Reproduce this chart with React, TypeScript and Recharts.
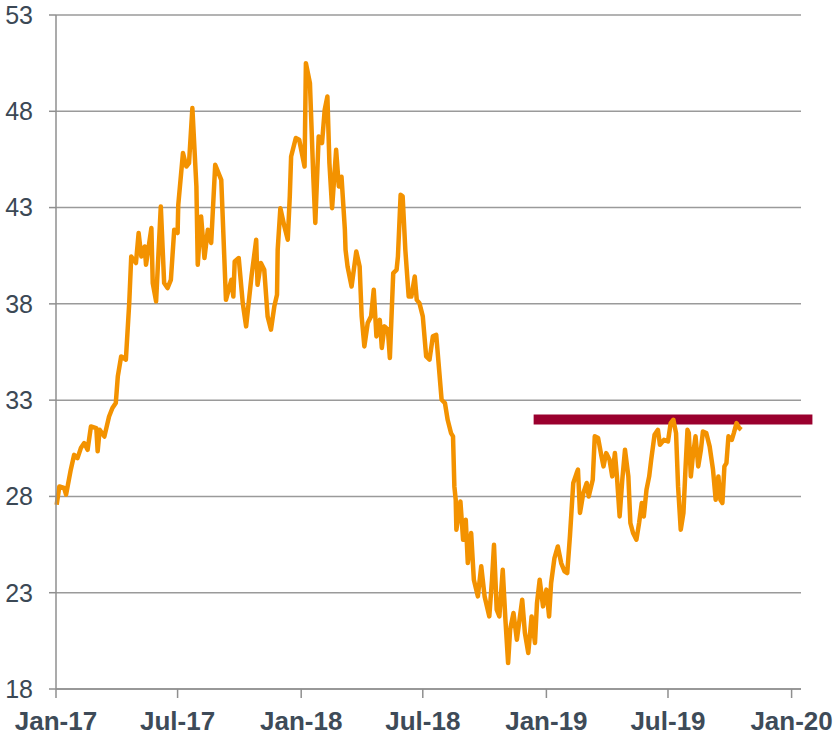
import React from 'react'
import { LineChart, Line, XAxis, YAxis, CartesianGrid, ReferenceLine } from 'recharts'

const dates = [
  '2017-01-02', '2017-01-06', '2017-01-13', '2017-01-16', '2017-01-23', '2017-01-28', '2017-02-02', '2017-02-07',
  '2017-02-12', '2017-02-17', '2017-02-22', '2017-03-02', '2017-03-04', '2017-03-07', '2017-03-14', '2017-03-21',
  '2017-03-26', '2017-03-31', '2017-04-03', '2017-04-08', '2017-04-15', '2017-04-20', '2017-04-23', '2017-04-30',
  '2017-05-04', '2017-05-08', '2017-05-13', '2017-05-15', '2017-05-23', '2017-05-25', '2017-05-30', '2017-06-06',
  '2017-06-11', '2017-06-16', '2017-06-21', '2017-06-26', '2017-07-01', '2017-07-02', '2017-07-09', '2017-07-14',
  '2017-07-18', '2017-07-23', '2017-07-29', '2017-07-31', '2017-08-05', '2017-08-10', '2017-08-15', '2017-08-20',
  '2017-08-26', '2017-09-04', '2017-09-11', '2017-09-19', '2017-09-22', '2017-09-24', '2017-09-30', '2017-10-06',
  '2017-10-11', '2017-10-19', '2017-10-26', '2017-10-28', '2017-11-02', '2017-11-07', '2017-11-12', '2017-11-17',
  '2017-11-22', '2017-11-26', '2017-11-27', '2017-12-01', '2017-12-07', '2017-12-12', '2017-12-15', '2017-12-17',
  '2017-12-24', '2017-12-29', '2018-01-06', '2018-01-08', '2018-01-14', '2018-01-19', '2018-01-22', '2018-01-27',
  '2018-02-01', '2018-02-05', '2018-02-09', '2018-02-12', '2018-02-16', '2018-02-22', '2018-02-26', '2018-03-02',
  '2018-03-07', '2018-03-08', '2018-03-11', '2018-03-17', '2018-03-24', '2018-03-29', '2018-04-01', '2018-04-05',
  '2018-04-10', '2018-04-15', '2018-04-19', '2018-04-23', '2018-04-28', '2018-05-01', '2018-05-05', '2018-05-10',
  '2018-05-13', '2018-05-18', '2018-05-23', '2018-05-25', '2018-05-29', '2018-06-01', '2018-06-05', '2018-06-10',
  '2018-06-14', '2018-06-19', '2018-06-22', '2018-06-26', '2018-07-01', '2018-07-06', '2018-07-11', '2018-07-16',
  '2018-07-21', '2018-07-29', '2018-08-03', '2018-08-07', '2018-08-12', '2018-08-15', '2018-08-17', '2018-08-19',
  '2018-08-20', '2018-08-26', '2018-08-30', '2018-09-03', '2018-09-06', '2018-09-11', '2018-09-15', '2018-09-21',
  '2018-09-26', '2018-10-01', '2018-10-08', '2018-10-12', '2018-10-15', '2018-10-19', '2018-10-23', '2018-10-28',
  '2018-11-01', '2018-11-05', '2018-11-08', '2018-11-13', '2018-11-18', '2018-11-26', '2018-11-30', '2018-12-05',
  '2018-12-10', '2018-12-15', '2018-12-18', '2018-12-22', '2018-12-27', '2019-01-01', '2019-01-05', '2019-01-08',
  '2019-01-13', '2019-01-18', '2019-01-23', '2019-01-28', '2019-02-01', '2019-02-05', '2019-02-10', '2019-02-15',
  '2019-02-17', '2019-02-20', '2019-02-25', '2019-03-02', '2019-03-05', '2019-03-11', '2019-03-14', '2019-03-19',
  '2019-03-24', '2019-03-27', '2019-03-31', '2019-04-05', '2019-04-09', '2019-04-13', '2019-04-16', '2019-04-20',
  '2019-04-24', '2019-04-28', '2019-05-03', '2019-05-06', '2019-05-10', '2019-05-15', '2019-05-19', '2019-05-23',
  '2019-05-26', '2019-05-30', '2019-06-03', '2019-06-06', '2019-06-11', '2019-06-16', '2019-06-19', '2019-06-25',
  '2019-07-01', '2019-07-05', '2019-07-09', '2019-07-13', '2019-07-16', '2019-07-20', '2019-07-24', '2019-07-27',
  '2019-07-30', '2019-08-01', '2019-08-04', '2019-08-07', '2019-08-11', '2019-08-15', '2019-08-19', '2019-08-22',
  '2019-08-27', '2019-09-01', '2019-09-06', '2019-09-10', '2019-09-14', '2019-09-17', '2019-09-20', '2019-09-23',
  '2019-09-26', '2019-09-29', '2019-10-04', '2019-10-07', '2019-10-11', '2019-10-15', '2019-10-18',
]

const prices = [
  27.57, 28.52, 28.44, 28.09, 29.39, 30.16, 29.99, 30.51,
  30.77, 30.42, 31.63, 31.55, 30.34, 31.46, 31.11, 32.15,
  32.59, 32.85, 34.23, 35.27, 35.1, 38.04, 40.46, 40.12,
  41.68, 40.46, 40.98, 40.03, 41.94, 39.08, 38.13, 43.06,
  39.08, 38.82, 39.25, 41.85, 41.68, 43.14, 45.83, 45.13,
  45.31, 48.17, 44.1, 40.03, 42.54, 40.38, 41.85, 41.16,
  45.22, 44.44, 38.21, 39.25, 38.38, 40.2, 40.38, 38.04,
  36.83, 39.42, 41.33, 38.99, 40.12, 39.77, 37.35, 36.66,
  37.87, 38.47, 40.81, 42.97, 42.02, 41.33, 43.58, 45.65,
  46.61, 46.52, 45.13, 50.5, 49.46, 44.62, 42.2, 46.69,
  46.35, 48.08, 48.77, 45.31, 42.97, 46.0, 44.1, 44.6,
  41.85, 40.81, 39.94, 38.9, 40.72, 39.94, 37.35, 35.79,
  37.0, 37.35, 38.73, 36.31, 37.17, 35.71, 36.83, 36.66,
  35.19, 39.6, 39.77, 40.46, 43.66, 43.58, 40.81, 38.38,
  38.38, 39.42, 38.21, 38.04, 37.35, 35.27, 35.1, 36.31,
  36.39, 33.02, 32.85, 31.98, 31.29, 31.12, 28.52, 27.83,
  26.27, 27.74, 25.75, 26.79, 24.54, 26.1, 23.67, 22.81,
  24.37, 22.81, 21.77, 23.67, 25.49, 22.12, 21.77, 24.19,
  21.6, 19.35, 21.08, 21.95, 20.56, 22.64, 20.91, 19.87,
  21.77, 20.39, 22.47, 23.67, 22.29, 23.16, 21.77, 23.5,
  24.8, 25.4, 24.54, 24.11, 24.02, 25.92, 28.7, 29.21,
  29.39, 27.14, 28.18, 28.7, 28.0, 28.87, 31.12, 31.03,
  30.08, 29.56, 30.25, 29.9, 29.04, 30.25, 29.04, 26.96,
  28.87, 30.42, 29.04, 26.62, 26.1, 25.75, 26.62, 27.66,
  26.96, 28.35, 29.04, 29.9, 31.2, 31.46, 30.68, 30.94,
  30.86, 31.81, 31.98, 31.29, 28.52, 26.27, 27.14, 29.39,
  31.46, 31.29, 29.04, 30.08, 31.12, 29.56, 30.42, 31.37,
  31.29, 30.6, 29.39, 27.83, 29.04, 27.83, 27.66, 29.56,
  29.73, 31.12, 30.94, 31.29, 31.81, 31.55, 31.46,
]

const tickDates = ['2017-01-01', '2017-07-01', '2018-01-01', '2018-07-01', '2019-01-01', '2019-07-01', '2020-01-01']
const tickLabels = ['Jan-17', 'Jul-17', 'Jan-18', 'Jul-18', 'Jan-19', 'Jul-19', 'Jan-20']
const yTicks = [18, 23, 28, 33, 38, 43, 48, 53]

const rangeStart = '2018-12-13'
const rangeEnd = '2020-02-01'
const rangeLevel = 32

const data = dates.map((d, i) => ({ t: Date.parse(d), v: prices[i] }))
const xTicks = tickDates.map((d) => Date.parse(d))

const font = 'Liberation Sans, Arial, sans-serif'
const xTickStyle = { fontFamily: font, fontSize: 26, fontWeight: 700, fill: '#3e4b58' }
const yTickStyle = { fontFamily: font, fontSize: 25, fill: '#3b4855' }

const App = () => {
  return (
    <div style={{ position: 'absolute', left: 0, top: 0 }}>
      <LineChart width={840} height={738} data={data} margin={{ top: 15, right: 39, left: 0, bottom: 0 }}>
        <CartesianGrid vertical={false} stroke="#9a9a9a" strokeWidth={1.5} />
        <XAxis
          dataKey="t"
          type="number"
          scale="time"
          domain={[Date.parse('2017-01-01'), Date.parse('2020-01-15')]}
          ticks={xTicks}
          tickFormatter={(t) => tickLabels[xTicks.indexOf(t)]}
          height={49}
          tickSize={9}
          tickMargin={14}
          stroke="#8f8f8f"
          strokeWidth={1.5}
          tick={xTickStyle}
          interval={0}
        />
        <YAxis
          domain={[18, 53]}
          ticks={yTicks}
          width={56}
          tickSize={7}
          tickMargin={16}
          stroke="#8f8f8f"
          strokeWidth={1.5}
          tick={yTickStyle}
          interval={0}
        />
        <ReferenceLine
          segment={[
            { x: Date.parse(rangeStart), y: rangeLevel },
            { x: Date.parse(rangeEnd), y: rangeLevel },
          ]}
          stroke="#9a002e"
          strokeWidth={10}
          ifOverflow="visible"
        />
        <Line
          dataKey="v"
          stroke="#f39200"
          strokeWidth={4.5}
          dot={false}
          strokeLinejoin="round"
          isAnimationActive={false}
        />
      </LineChart>
    </div>
  )
}

export default App
